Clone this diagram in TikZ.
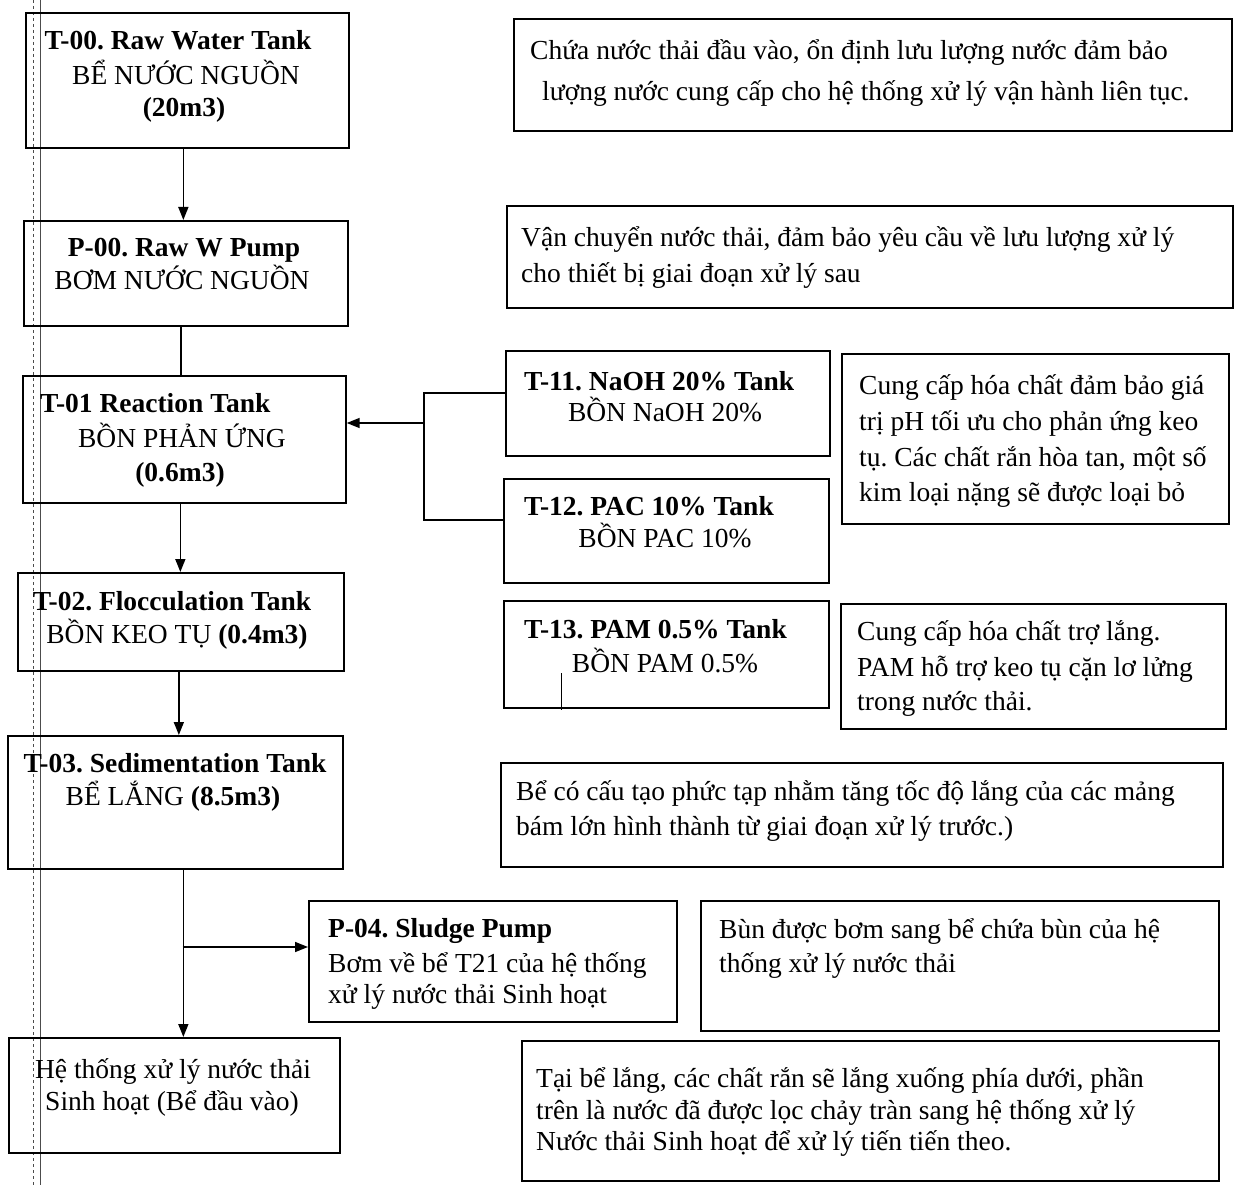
\documentclass[tikz,border=0pt]{standalone}
\usepackage{fontspec}
\setmainfont{Liberation Serif}
\usetikzlibrary{arrows.meta}
\frenchspacing
\begin{document}
\begin{tikzpicture}[x=1pt,y=-1pt,
  box/.style={draw,line width=1.7pt,rectangle,inner sep=0pt,anchor=north west},
  conn/.style={line width=1.5pt},
  arr/.style={conn,-{Triangle[length=13pt,width=10pt]}},
  lbl/.style={inner sep=0pt,font=\fontsize{27.5}{32}\selectfont},
  hd/.style={inner sep=0pt,font=\fontsize{27.5}{32}\selectfont\bfseries},
  margin/.style={line width=0.8pt,draw=black!70}]
\useasboundingbox (0,0) rectangle (1235,1185);
\fill[white] (0,0) rectangle (1235,1185);

% margin lines of the page
\draw[margin] (40,0) -- (40,1185);
\draw[margin,dashed] (33,0) -- (33,1185);

% boxes
\node[box,minimum width=323pt,minimum height=135pt] (t00) at (25,12) {};
\node[box,minimum width=324pt,minimum height=105pt] (p00) at (23,220) {};
\node[box,minimum width=323pt,minimum height=127pt] (t01) at (22,375) {};
\node[box,minimum width=326pt,minimum height=98pt] (t02) at (17,572) {};
\node[box,minimum width=335pt,minimum height=133pt] (t03) at (7,735) {};
\node[box,minimum width=331pt,minimum height=115pt] (out) at (8,1037) {};
\node[box,minimum width=324pt,minimum height=105pt] (t11) at (505,350) {};
\node[box,minimum width=325pt,minimum height=104pt] (t12) at (503,478) {};
\node[box,minimum width=325pt,minimum height=107pt] (t13) at (503,600) {};
\node[box,minimum width=368pt,minimum height=121pt] (p04) at (308,900) {};
\node[box,minimum width=718pt,minimum height=112pt] (d1) at (513,18) {};
\node[box,minimum width=726pt,minimum height=102pt] (d2) at (506,205) {};
\node[box,minimum width=387pt,minimum height=170pt] (d3) at (841,353) {};
\node[box,minimum width=385pt,minimum height=125pt] (d4) at (840,603) {};
\node[box,minimum width=722pt,minimum height=104pt] (d5) at (500,762) {};
\node[box,minimum width=518pt,minimum height=130pt] (d6) at (700,900) {};
\node[box,minimum width=697pt,minimum height=140pt] (d7) at (521,1040) {};

% texts of the left column
\node[hd,anchor=base] (t00a) at (178,50) {T-00. Raw Water Tank};
\node[lbl,anchor=base] (t00b) at (186,85) {BỂ NƯỚC NGUỒN};
\node[hd,anchor=base] (t00c) at (184,117) {(20m3)};
\node[hd,anchor=base] (p00a) at (184,257) {P-00. Raw W Pump};
\node[lbl,anchor=base] (p00b) at (182,290) {BƠM NƯỚC NGUỒN};
\node[hd,anchor=base west] (t01a) at (40,412) {T-01 Reaction Tank};
\node[lbl,anchor=base] (t01b) at (182,447) {BỒN PHẢN ỨNG};
\node[hd,anchor=base] (t01c) at (180,481) {(0.6m3)};
\node[hd,anchor=base] (t02a) at (172,610) {T-02. Flocculation Tank};
\node[lbl,anchor=base] (t02b) at (177,643) {BỒN KEO TỤ \textbf{(0.4m3)}};
\node[hd,anchor=base] (t03a) at (175,772) {T-03. Sedimentation Tank};
\node[lbl,anchor=base] (t03b) at (173,805) {BỂ LẮNG \textbf{(8.5m3)}};
\node[lbl,anchor=base] (outa) at (173,1078) {Hệ thống xử lý nước thải};
\node[lbl,anchor=base] (outb) at (172,1110) {Sinh hoạt (Bể đầu vào)};

% chemical tanks
\node[hd,anchor=base west] (t11a) at (524,390) {T-11. NaOH 20\% Tank};
\node[lbl,anchor=base] (t11b) at (665,421) {BỒN NaOH 20\%};
\node[hd,anchor=base west] (t12a) at (524,515) {T-12. PAC 10\% Tank};
\node[lbl,anchor=base] (t12b) at (665,547) {BỒN PAC 10\%};
\node[hd,anchor=base west] (t13a) at (524,638) {T-13. PAM 0.5\% Tank};
\node[lbl,anchor=base] (t13b) at (665,672) {BỒN PAM 0.5\%};

% sludge pump
\node[hd,anchor=base west] (p04a) at (328,937) {P-04. Sludge Pump};
\node[lbl,anchor=base west] (p04b) at (328,972) {Bơm về bể T21 của hệ thống};
\node[lbl,anchor=base west] (p04c) at (328,1003) {xử lý nước thải Sinh hoạt};

% descriptions
\node[lbl,anchor=base west] (d1a) at (530,60) {Chứa nước thải đầu vào, ổn định lưu lượng nước đảm bảo};
\node[lbl,anchor=base west] (d1b) at (542,101) {lượng nước cung cấp cho hệ thống xử lý vận hành liên tục.};
\node[lbl,anchor=base west] (d2a) at (521,247) {Vận chuyển nước thải, đảm bảo yêu cầu về lưu lượng xử lý};
\node[lbl,anchor=base west] (d2b) at (521,283) {cho thiết bị giai đoạn xử lý sau};
\node[lbl,anchor=base west] (d3a) at (859,394) {Cung cấp hóa chất đảm bảo giá};
\node[lbl,anchor=base west] (d3b) at (859,430) {trị pH tối ưu cho phản ứng keo};
\node[lbl,anchor=base west] (d3c) at (859,466) {tụ. Các chất rắn hòa tan, một số};
\node[lbl,anchor=base west] (d3d) at (859,501) {kim loại nặng sẽ được loại bỏ};
\node[lbl,anchor=base west] (d4a) at (857,640) {Cung cấp hóa chất trợ lắng.};
\node[lbl,anchor=base west] (d4b) at (857,676) {PAM hỗ trợ keo tụ cặn lơ lửng};
\node[lbl,anchor=base west] (d4c) at (857,710) {trong nước thải.};
\node[lbl,anchor=base west] (d5a) at (516,800) {Bể có cấu tạo phức tạp nhằm tăng tốc độ lắng của các mảng};
\node[lbl,anchor=base west] (d5b) at (516,835) {bám lớn hình thành từ giai đoạn xử lý trước.)};
\node[lbl,anchor=base west] (d6a) at (719,938) {Bùn được bơm sang bể chứa bùn của hệ};
\node[lbl,anchor=base west] (d6b) at (719,972) {thống xử lý nước thải};
\node[lbl,anchor=base west] (d7a) at (536,1087) {Tại bể lắng, các chất rắn sẽ lắng xuống phía dưới, phần};
\node[lbl,anchor=base west] (d7b) at (536,1119) {trên là nước đã được lọc chảy tràn sang hệ thống xử lý};
\node[lbl,anchor=base west] (d7c) at (536,1150) {Nước thải Sinh hoạt để xử lý tiến tiến theo.};

% connectors
\draw[arr] ([xshift=-4pt]t00.south) -- ([xshift=-4pt]t00.south |- p00.north);
\draw[conn] ([xshift=-5pt]p00.south) -- ([xshift=-5pt]p00.south |- t01.north);
\draw[arr] ([xshift=-4pt]t01.south) -- ([xshift=-4pt]t01.south |- t02.north);
\draw[arr] ([xshift=-2pt]t02.south) -- ([xshift=-2pt]t02.south |- t03.north);
\draw[arr] ([xshift=8pt]t03.south) -- ([xshift=8pt]t03.south |- out.north);
\coordinate (br) at (182.5,947);
\draw[arr] (br) -- (br -| p04.west);
\coordinate (j1) at (424,393);
\coordinate (j2) at (424,520);
\coordinate (jm) at (424,423);
\draw[conn] (j1 -| t11.west) -- (j1) -- (j2) -- (j2 -| t12.west);
\draw[arr] (jm) -- (jm -| t01.east);
\coordinate (tk1) at (561,673);
\coordinate (tk2) at (561,710);
\draw[conn,line width=1pt] (tk1) -- (tk2);
\end{tikzpicture}
\end{document}
